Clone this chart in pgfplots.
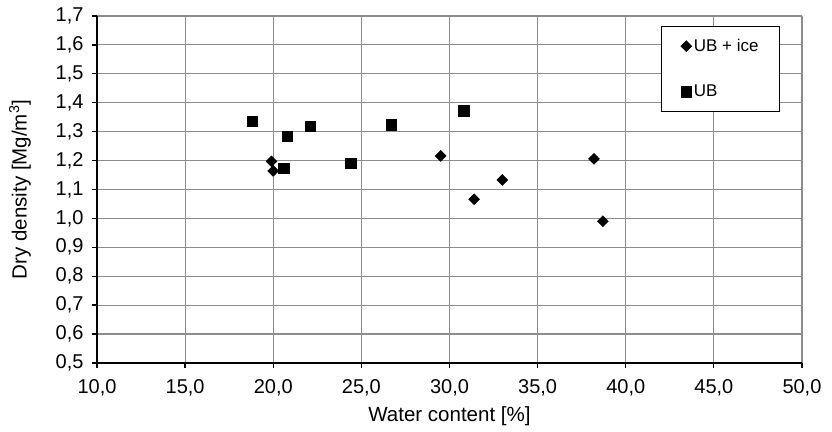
\documentclass[border=0pt]{standalone}
\usepackage{pgfplots}
\pgfplotsset{compat=1.18}
\usepackage{fontspec}
\setmainfont{Liberation Sans}

\begin{document}
\begin{tikzpicture}
\begin{axis}[
    width=705pt, height=347pt,
    scale only axis,
    clip=false,
    xmin=10, xmax=50, ymin=0.5, ymax=1.7,
    xtick distance=5, ytick distance=0.1,
    axis lines=left,
    axis line style={-, black, line width=1.5pt},
    tick align=outside,
    major tick length=5pt,
    tick style={black, line width=1.3pt},
    grid=major,
    grid style={gray!90, line width=1.2pt},
    /pgf/number format/assume math mode=true,
    /pgf/number format/use comma,
    /pgf/number format/fixed,
    /pgf/number format/fixed zerofill,
    /pgf/number format/precision=1,
    ticklabel style={font=\fontsize{20}{22}\selectfont},
    yticklabel style={xshift=-5pt},
    xticklabel style={yshift=-8pt},
    label style={font=\fontsize{20.5}{23}\selectfont},
    xlabel={Water content [\%]},
    xlabel style={yshift=-4pt},
    ylabel={Dry density [Mg/m\textsuperscript{3}]},
    ylabel style={yshift=18pt},
    legend style={at={(rel axis cs:0.969,0.972)}, anchor=north east,
        draw=black, line width=1.2pt, fill=white,
        font=\fontsize{17}{19}\selectfont,
        inner xsep=19pt, inner ysep=11pt, row sep=28pt},
    legend cell align=left,
    legend image code/.code={\draw[#1] plot coordinates {(0pt,0pt)};},
]
\path (rel axis cs:-0.1376,-0.1988) rectangle (rel axis cs:1.0426,1.046);
\addplot[only marks, mark=square*, mark size=3.9pt, black,
    mark options={rotate=45, line width=0.4pt}] coordinates {
    (19.9,1.197) (20.0,1.164) (29.5,1.216) (31.4,1.066)
    (33.0,1.133) (38.2,1.206) (38.7,0.99)
};
\addlegendentry{UB + ice}
\addplot[only marks, mark=square*, mark size=5.2pt, black,
    mark options={line width=0.4pt}] coordinates {
    (18.8,1.337) (20.6,1.173) (20.8,1.285) (22.1,1.319)
    (24.4,1.19) (26.7,1.324) (30.8,1.372)
};
\addlegendentry{UB}
\end{axis}
\end{tikzpicture}
\end{document}
